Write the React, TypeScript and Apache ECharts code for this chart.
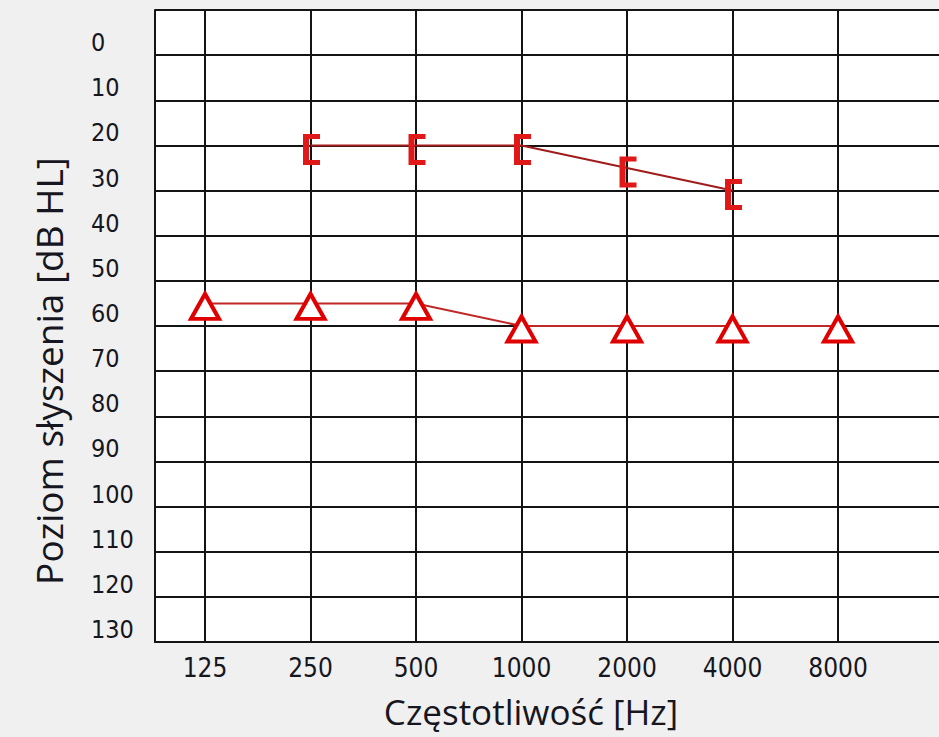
import React, { useEffect, useRef } from "react";
import * as echarts from "echarts";

const FREQUENCIES = ["125", "250", "500", "1000", "2000", "4000", "8000"];
const LEFT_EAR_DB = [null, 20, 20, 20, 25, 30, null];
const RIGHT_EAR_DB = [55, 55, 55, 60, 60, 60, 60];
const X_TITLE = "Częstotliwość [Hz]";
const Y_TITLE = "Poziom słyszenia [dB HL]";

const TICK_FONT = '"DejaVu Sans Condensed", "DejaVu Sans", sans-serif';
const TITLE_FONT = '"Open Sans", "Noto Sans", sans-serif';
const GRID_COLOR = "#141414";
const TEXT_COLOR = "#16161e";

const BRACKET = "path://M0,0H17V5H6V26H17V31H0Z";

export default function App() {
  const ref = useRef<HTMLDivElement>(null);

  useEffect(() => {
    if (!ref.current) return;
    const chart = echarts.init(ref.current, undefined, { renderer: "svg" });
    const idx = FREQUENCIES.map((_, i) => i);
    const leftData = LEFT_EAR_DB.map((v, i) => (v == null ? null : [i, v])).filter(
      (d) => d != null
    );
    const rightData = RIGHT_EAR_DB.map((v, i) => [i, v]);

    chart.setOption({
      animation: false,
      backgroundColor: "#f0f0f0",
      grid: {
        left: 155,
        top: 10,
        right: 0,
        bottom: 95,
        show: true,
        backgroundColor: "#ffffff",
        borderWidth: 0,
      },
      xAxis: {
        type: "value",
        min: -0.474,
        max: 6.957,
        axisLine: { show: true, onZero: false, lineStyle: { color: GRID_COLOR, width: 2 } },
        axisTick: { show: false, customValues: idx },
        axisLabel: {
          customValues: idx,
          formatter: (v: number) => FREQUENCIES[Math.round(v)] ?? "",
          margin: 13,
          fontSize: 26,
          fontFamily: TICK_FONT,
          color: TEXT_COLOR,
        },
        splitLine: { show: true, lineStyle: { color: GRID_COLOR, width: 2 } },
      },
      yAxis: {
        type: "value",
        inverse: true,
        min: -10,
        max: 130,
        interval: 10,
        axisLine: { show: true, onZero: false, lineStyle: { color: GRID_COLOR, width: 2 } },
        axisTick: { show: false },
        axisLabel: {
          formatter: (v: number) => (v < 0 ? "" : String(v)),
          align: "left",
          verticalAlign: "bottom",
          margin: 64,
          fontSize: 25,
          fontFamily: TICK_FONT,
          color: TEXT_COLOR,
        },
        splitLine: { show: true, lineStyle: { color: GRID_COLOR, width: 2 } },
      },
      series: [
        {
          type: "line",
          data: leftData,
          symbol: BRACKET,
          symbolSize: [17, 31],
          symbolOffset: [1, 4],
          symbolKeepAspect: false,
          itemStyle: { color: "#e01818" },
          lineStyle: { color: "#a01c1c", width: 2 },
          z: 3,
        },
        {
          type: "line",
          data: rightData,
          symbol: "triangle",
          symbolSize: [28, 25],
          symbolOffset: [0, 3],
          itemStyle: { color: "#ffffff", borderColor: "#e00000", borderWidth: 4 },
          lineStyle: { color: "#c02828", width: 2 },
          z: 3,
        },
      ],
      graphic: [
        {
          type: "text",
          x: 531,
          y: 711,
          style: {
            text: X_TITLE,
            font: `35px ${TITLE_FONT}`,
            fill: TEXT_COLOR,
            align: "center",
            verticalAlign: "middle",
          },
        },
        {
          type: "text",
          x: 48,
          y: 371,
          rotation: Math.PI / 2,
          style: {
            text: Y_TITLE,
            font: `37px ${TITLE_FONT}`,
            fill: TEXT_COLOR,
            align: "center",
            verticalAlign: "middle",
          },
        },
      ],
    });
    return () => chart.dispose();
  }, []);

  return (
    <div
      ref={ref}
      style={{ position: "fixed", left: 0, top: 0, width: 939, height: 737 }}
    />
  );
}
